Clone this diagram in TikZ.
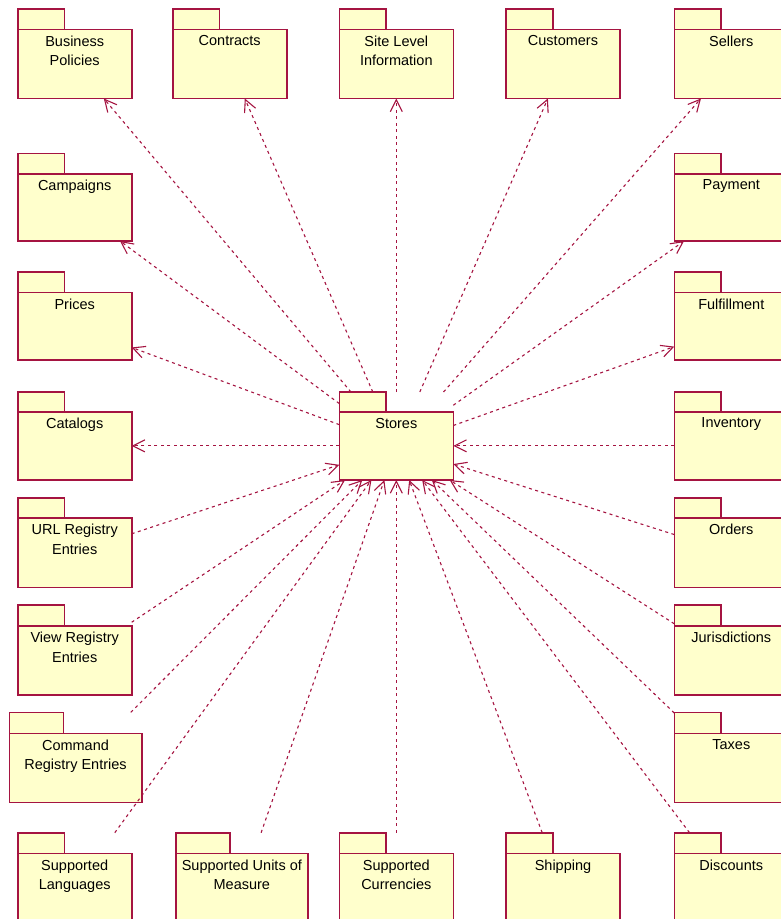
\documentclass[tikz,border=0pt]{standalone}
\usepackage{fontspec}
\setmainfont{Liberation Sans}
\usetikzlibrary{arrows.meta,intersections}
\definecolor{pkgline}{RGB}{165,20,65}
\definecolor{pkgfill}{RGB}{255,255,204}
\tikzset{
  pkgbox/.style={draw=pkgline, fill=pkgfill, line width=1.6pt, inner sep=0pt, outer sep=0pt},
  pkglabel/.style={align=center, inner sep=0pt, anchor=north, font=\fontsize{14.5}{19.5}\selectfont, text=black},
  depline/.style={draw=pkgline, line width=1.1pt, dash pattern=on 3pt off 3.5pt, -{Straight Barb[length=12pt,width=12pt]}},
}
% #1 name, #2 left, #3 right, #4 tab top, #5 body top, #6 body bottom, #7 text
\newcommand\pkg[7]{%
  \pgfmathsetmacro\pkgtr{#2+0.41*(#3-#2)}%
  \pgfmathsetmacro\pkgcx{(#2+#3)/2}%
  \pgfmathsetmacro\pkgcy{(#5+#6)/2}%
  \pgfmathsetmacro\pkgw{#3-#2}%
  \pgfmathsetmacro\pkgh{#6-#5}%
  \path[name path global=#1bb] (#2,#4) rectangle (#3,#6);
  \draw[pkgbox] (#2,#5) rectangle (\pkgtr,#4);
  \node[pkgbox, minimum width=\pkgw pt, minimum height=\pkgh pt] (#1) at (\pkgcx,\pkgcy) {};
  \node[pkglabel] (#1-label) at (\pkgcx,#5+6) {#7};
}
% dependency from #1 to #2 (arrow head at #2)
\newcommand\dep[2]{%
  \path[name path global=deppath] (#1.center) -- (#2.center);
  \path[name intersections={of=deppath and #1bb, by=depA}];
  \path[name intersections={of=deppath and #2bb, by=depB}];
  \draw[depline] (depA) -- (depB);
}
\begin{document}
\begin{tikzpicture}[x=1pt,y=-1pt]
\useasboundingbox (0,0) rectangle (781,919);
\clip (0,0) rectangle (781,919);
% row 1
\pkg{bp}{17.7}{131.7}{9}{29.3}{98.5}{Business\\Policies}
\pkg{ct}{172.7}{286.7}{9}{29.3}{98.5}{Contracts}
\pkg{si}{339.3}{453.3}{9}{29.3}{98.5}{Site Level\\Information}
\pkg{cu}{506}{620}{9}{29.3}{98.5}{Customers}
\pkg{se}{674.3}{788.3}{9}{29.3}{98.5}{Sellers}
% row 2
\pkg{ca}{17.7}{131.7}{153.3}{173.7}{241}{Campaigns}
\pkg{pa}{674.3}{788.3}{153.3}{173.7}{241}{Payment}
% row 3
\pkg{pr}{17.7}{131.7}{271.7}{292.5}{360}{Prices}
\pkg{fu}{674.3}{788.3}{271.7}{292.5}{360}{Fulfillment}
% row 4
\pkg{cat}{17.7}{131.7}{392}{411.7}{480}{Catalogs}
\pkg{st}{339.3}{453.3}{392}{411.7}{480}{Stores}
\pkg{inv}{674.3}{788.3}{392}{411.7}{480}{Inventory}
% row 5
\pkg{url}{17.7}{131.7}{497.7}{518.2}{587.3}{URL Registry\\Entries}
\pkg{ord}{674.3}{788.3}{497.7}{518.2}{587.3}{Orders}
% row 6
\pkg{view}{17.7}{131.7}{605.2}{625.8}{694.7}{View Registry\\Entries}
\pkg{jur}{674.3}{788.3}{605.2}{625.8}{694.7}{Jurisdictions}
% row 7
\pkg{cmd}{9.3}{141.7}{712.3}{733.3}{802.3}{Command\\Registry Entries}
\pkg{tax}{674.3}{788.3}{712.3}{733.3}{802.3}{Taxes}
% row 8
\pkg{lang}{17.7}{131.7}{832.7}{853.3}{922.3}{Supported\\Languages}
\pkg{uom}{176}{307.7}{832.7}{853.3}{922.3}{Supported Units of\\Measure}
\pkg{cur}{339.3}{453.3}{832.7}{853.3}{922.3}{Supported\\Currencies}
\pkg{ship}{506}{620}{832.7}{853.3}{922.3}{Shipping}
\pkg{disc}{674.3}{788.3}{832.7}{853.3}{922.3}{Discounts}
% dependencies from Stores
\dep{st}{bp}
\dep{st}{ct}
\dep{st}{si}
\dep{st}{cu}
\dep{st}{se}
\dep{st}{ca}
\dep{st}{pa}
\dep{st}{pr}
\dep{st}{fu}
\dep{st}{cat}
% dependencies into Stores
\dep{inv}{st}
\dep{ord}{st}
\dep{jur}{st}
\dep{tax}{st}
\dep{disc}{st}
\dep{ship}{st}
\dep{cur}{st}
\dep{uom}{st}
\dep{lang}{st}
\dep{cmd}{st}
\dep{view}{st}
\dep{url}{st}
\end{tikzpicture}
\end{document}
